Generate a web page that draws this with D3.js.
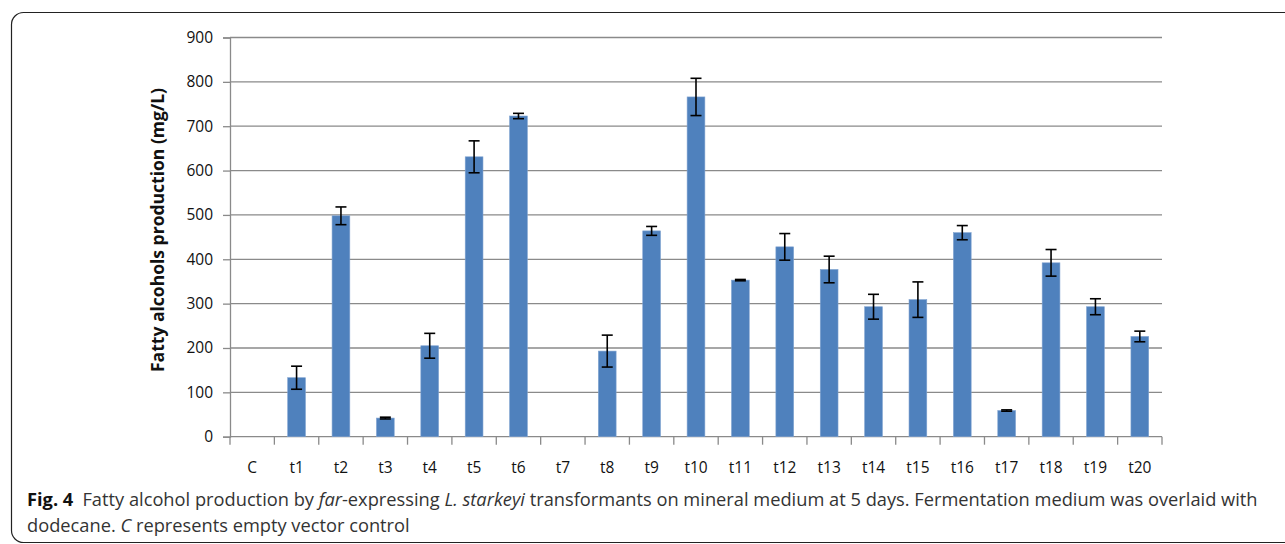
<!DOCTYPE html>
<html>
<head>
<meta charset="utf-8">
<script src="https://cdn.jsdelivr.net/npm/d3@7"></script>
<style>
  html, body { margin: 0; padding: 0; background: #fff; }
  svg { display: block; }
</style>
</head>
<body>
<svg id="chart" width="1285" height="544"></svg>
<script>
// Strains: empty-vector control plus 20 transformants
const categories = ["C", "t1", "t2", "t3", "t4", "t5", "t6", "t7", "t8", "t9", "t10",
                    "t11", "t12", "t13", "t14", "t15", "t16", "t17", "t18", "t19", "t20"];
// Mean fatty alcohol titre (mg/L)
const values = [0, 133, 498, 42, 205, 631, 723, 0, 193, 464, 766,
                353, 428, 377, 293, 309, 460, 59, 392, 293, 226];
// Standard deviation (mg/L)
const errors = [0, 26, 20, 2, 28, 36, 6, 0, 36, 10, 42,
                1.5, 30, 30, 28, 40, 16, 1.5, 30, 18, 12];
const yTicks = [0, 100, 200, 300, 400, 500, 600, 700, 800, 900];

const svg = d3.select("#chart");
const plot = { left: 230, right: 1162, top: 37.5, bottom: 436.7 };
const gridColor = "#8a8a8a";
const labelFont = "'Open Sans', 'Noto Sans', sans-serif";

// Panel frame with rounded left corners
svg.append("rect")
  .attr("x", 11.5).attr("y", 12.5)
  .attr("width", 1320).attr("height", 530)
  .attr("rx", 12).attr("ry", 12)
  .attr("fill", "none").attr("stroke", "#222").attr("stroke-width", 1.2);

const x = d3.scaleBand().domain(categories)
  .range([plot.left, plot.right]).paddingInner(0.6).paddingOuter(0.3);
const xb = d3.scaleBand().domain(categories).range([plot.left, plot.right]);
const y = d3.scaleLinear().domain([0, 900]).range([plot.bottom, plot.top]);

// Horizontal gridlines
svg.append("g").selectAll("line").data(yTicks.filter(d => d > 0)).join("line")
  .attr("x1", plot.left).attr("x2", plot.right)
  .attr("y1", d => y(d)).attr("y2", d => y(d))
  .attr("stroke", gridColor).attr("stroke-width", 1.3);

// Y axis
const yAxis = svg.append("g").attr("transform", `translate(${plot.left},0)`)
  .call(d3.axisLeft(y).tickValues(yTicks).tickSize(7).tickPadding(10));
yAxis.select(".domain").attr("stroke", gridColor).attr("stroke-width", 1.3);
yAxis.selectAll(".tick line").attr("stroke", gridColor).attr("stroke-width", 1.3);
yAxis.selectAll(".tick text").attr("font-family", labelFont).attr("font-size", 15.5).attr("fill", "#111");

// X axis: tick marks on category boundaries
const boundaries = categories.map(c => xb(c)).concat([plot.right]);
svg.append("line")
  .attr("x1", plot.left).attr("x2", plot.right)
  .attr("y1", plot.bottom).attr("y2", plot.bottom)
  .attr("stroke", gridColor).attr("stroke-width", 1.3);
svg.append("g").selectAll("line").data(boundaries).join("line")
  .attr("x1", d => d).attr("x2", d => d)
  .attr("y1", plot.bottom).attr("y2", plot.bottom + 8)
  .attr("stroke", gridColor).attr("stroke-width", 1.3);
svg.append("g").selectAll("text").data(categories).join("text")
  .attr("x", d => xb(d) + xb.bandwidth() / 2)
  .attr("y", 472.5)
  .attr("text-anchor", "middle")
  .attr("font-family", labelFont).attr("font-size", 15.5).attr("fill", "#111")
  .text(d => d);

// Bars
svg.append("g").selectAll("rect").data(categories).join("rect")
  .attr("x", d => x(d))
  .attr("width", x.bandwidth())
  .attr("y", (d, i) => y(values[i]))
  .attr("height", (d, i) => y(0) - y(values[i]))
  .attr("fill", "#4f81bd")
  .attr("stroke", "#7fa2d0").attr("stroke-width", 0.6);

// Error bars
const eb = svg.append("g").attr("stroke", "#000").attr("stroke-width", 1.6);
categories.forEach((c, i) => {
  if (values[i] <= 0) return;
  const cx = x(c) + x.bandwidth() / 2;
  const hi = y(values[i] + errors[i]);
  const lo = y(values[i] - errors[i]);
  eb.append("line").attr("x1", cx).attr("x2", cx).attr("y1", hi).attr("y2", lo);
  eb.append("line").attr("x1", cx - 5.5).attr("x2", cx + 5.5).attr("y1", hi).attr("y2", hi);
  eb.append("line").attr("x1", cx - 5.5).attr("x2", cx + 5.5).attr("y1", lo).attr("y2", lo);
});

// Y axis title, fitted to its span
svg.append("text")
  .attr("transform", "translate(164,230) rotate(-90)")
  .attr("text-anchor", "middle")
  .attr("font-family", labelFont).attr("font-weight", "bold")
  .attr("font-size", 17).attr("fill", "#111")
  .attr("textLength", 284).attr("lengthAdjust", "spacingAndGlyphs")
  .text("Fatty alcohols production (mg/L)");

// Caption, two lines sharing one horizontal condensing factor
const capFont = "'Open Sans', 'Noto Sans', sans-serif";
const capSize = 18.5;
const line1 = svg.append("text").attr("x", 0).attr("y", 0)
  .attr("font-family", capFont).attr("font-size", capSize).attr("fill", "#333");
[
  { text: "Fig. 4", bold: true },
  { text: "\u2002Fatty alcohol production by " },
  { text: "far", italic: true },
  { text: "-expressing " },
  { text: "L. starkeyi", italic: true },
  { text: " transformants on mineral medium at 5 days. Fermentation medium was overlaid with" }
].forEach(p => {
  const s = line1.append("tspan").text(p.text);
  if (p.bold) s.attr("font-weight", "bold").attr("fill", "#111");
  if (p.italic) s.attr("font-style", "italic");
});
const k1 = 1231 / line1.node().getComputedTextLength();
line1.attr("transform", `translate(27,506) scale(${k1},1)`);

const line2 = svg.append("text").attr("x", 0).attr("y", 0)
  .attr("font-family", capFont).attr("font-size", capSize).attr("fill", "#333");
line2.append("tspan").text("dodecane. ");
line2.append("tspan").attr("font-style", "italic").text("C");
line2.append("tspan").text(" represents empty vector control");
line2.attr("transform", `translate(27,531.5) scale(${k1},1)`);
</script>
</body>
</html>
